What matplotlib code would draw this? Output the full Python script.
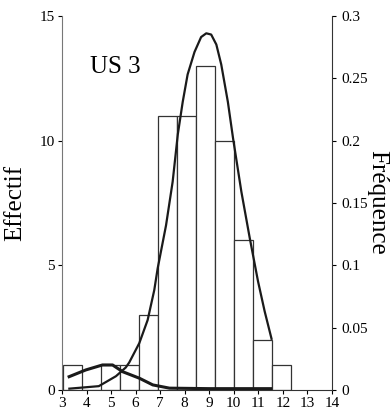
import matplotlib
matplotlib.use("Agg")
import matplotlib.pyplot as plt

plt.rcParams['font.family'] = ['Liberation Serif', 'DejaVu Serif']

# histogram (counts per class)
bin_edges = [3.05, 3.825, 4.6, 5.375, 6.15, 6.925, 7.7, 8.475, 9.25, 10.025, 10.8, 11.575, 12.35]
counts = [1, 0, 1, 1, 3, 11, 11, 13, 10, 6, 2, 1]

# fitted curve (frequency)
curve_x = [3.3, 4.5, 5.2, 5.6, 5.74, 6.15, 6.49, 6.76, 6.9, 7.24, 7.51, 7.72, 7.92, 8.12,
           8.4, 8.67, 8.88, 9.08, 9.29, 9.49, 9.76, 9.97, 10.31, 10.65, 10.99, 11.26, 11.54]
curve_y = [0.001, 0.003, 0.011, 0.018, 0.022, 0.0375, 0.056, 0.080, 0.0976, 0.132, 0.167,
           0.205, 0.231, 0.253, 0.271, 0.283, 0.286, 0.285, 0.277, 0.261, 0.231, 0.202,
           0.159, 0.122, 0.087, 0.063, 0.041]

# second (small) curve, in counts
small_x = [3.29, 3.97, 4.65, 5.06, 5.47, 6.15, 6.7, 7.38, 9.0, 11.5]
small_y = [0.53, 0.8, 1.0, 1.0, 0.73, 0.47, 0.2, 0.07, 0.05, 0.05]

fig = plt.figure(figsize=(3.9, 4.17), dpi=100)
ax = fig.add_axes([0.159, 0.065, 0.692, 0.897])

widths = [b - a for a, b in zip(bin_edges[:-1], bin_edges[1:])]
ax.bar(bin_edges[:-1], counts, width=widths, align='edge', facecolor='white',
       edgecolor='#333333', linewidth=0.9, zorder=1)
ax.plot(small_x, small_y, color='#1a1a1a', linewidth=2.2, zorder=3)

ax.set_xlim(3, 14)
ax.set_ylim(0, 15)
ax.set_xticks(range(3, 15))
ax.set_yticks([0, 5, 10, 15])
ax.tick_params(direction='out', length=3, width=0.8, labelsize=11, pad=2)
ax.spines['top'].set_visible(False)
ax.spines['right'].set_visible(False)
ax.spines['left'].set_color('#777777')
ax.spines['bottom'].set_color('#333333')
ax.set_ylabel('Effectif', fontsize=18, labelpad=10)

ax2 = ax.twinx()
ax2.plot(curve_x, curve_y, color='#1a1a1a', linewidth=1.6, zorder=4)
ax2.set_ylim(0, 0.3)
ax2.set_yticks([0, 0.05, 0.1, 0.15, 0.2, 0.25, 0.3])
ax2.set_yticklabels(['0', '0.05', '0.1', '0.15', '0.2', '0.25', '0.3'])
ax2.tick_params(direction='out', length=3, width=0.8, labelsize=11, pad=4)
for s in ['top', 'left', 'bottom']:
    ax2.spines[s].set_visible(False)
ax2.spines['right'].set_color('#333333')
ax2.set_ylabel('Fréquence', fontsize=18, rotation=-90, labelpad=-1.5, va='bottom')

ax.text(4.15, 12.95, 'US 3', fontsize=18, va='center', ha='left')

fig.savefig('out.png', dpi=100)
